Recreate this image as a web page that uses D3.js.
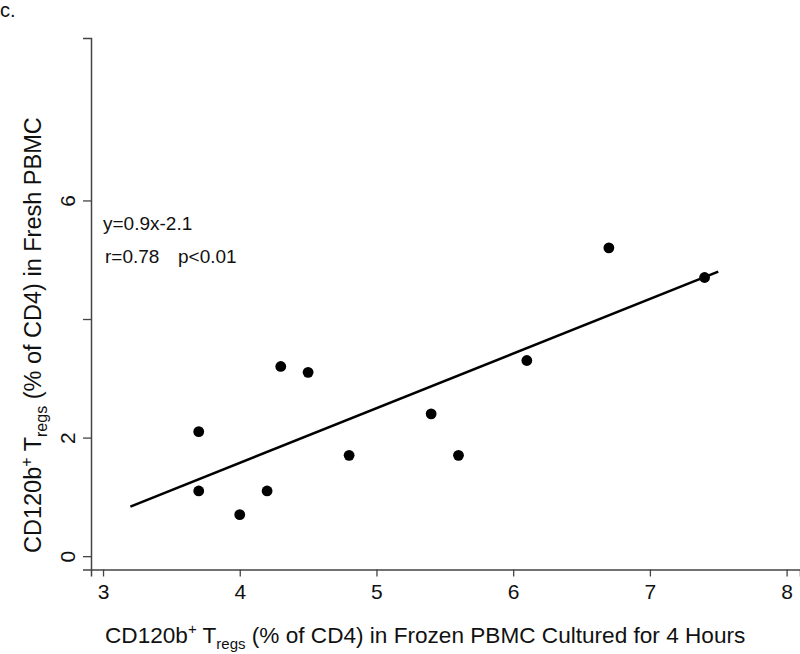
<!DOCTYPE html>
<html lang="en">
<head>
<meta charset="UTF-8">
<title>CD120b Tregs</title>
<style>
  body { margin: 0; background: #fff; }
  svg { font-family: "Liberation Sans", Arial, Helvetica, sans-serif; }
</style>
</head>
<body>
<svg width="800" height="654"></svg>
<script src="https://d3js.org/d3.v7.min.js"></script>
<script>

    // values
    var xFrozen = [3.7, 3.7, 4.0, 4.2, 4.3, 4.5, 4.8, 5.4, 5.6, 6.1, 6.7, 7.4];
    var yFresh  = [2.1, 1.1, 0.7, 1.1, 3.2, 3.1, 1.7, 2.4, 1.7, 3.3, 5.2, 4.7];
    var fitX = [3.2, 7.5];
    var fitY = [0.835, 4.8];
    var xTicks = [3, 4, 5, 6, 7, 8];
    var yTicks = [0, 2, 4, 6];
    var yTickLabels = ["0", "2", "", "6"];

    var svg = d3.select("svg");

    var plotLeft = 91, plotRight = 800, plotTop = 38, plotBottom = 569.5;

    var x = d3.scaleLinear().domain([2.912, 8.098]).range([plotLeft, plotRight]);
    var y = d3.scaleLinear().domain([-0.225, 8.74]).range([plotBottom, plotTop]);

    var axisColor = "#444";

    var gx = svg.append("g")
        .attr("transform", "translate(0," + plotBottom + ")")
        .call(d3.axisBottom(x).tickValues(xTicks).tickFormat(d3.format("d"))
            .tickSizeOuter(0).tickSize(7).tickPadding(5));

    var gy = svg.append("g")
        .attr("transform", "translate(" + plotLeft + ",0)")
        .call(d3.axisLeft(y).tickValues(yTicks).tickSizeOuter(0).tickSize(8)
            .tickFormat(function(d, i) { return yTickLabels[i]; }));

    [gx, gy].forEach(function(g) {
        g.select(".domain").attr("stroke", axisColor).attr("stroke-width", 1.5);
        g.selectAll(".tick line").attr("stroke", axisColor).attr("stroke-width", 1.3);
        g.selectAll("text").attr("fill", "#111").style("font-size", "21px")
            .style("font-family", "'Liberation Sans', Arial, Helvetica, sans-serif");
    });

    gx.selectAll(".tick text").attr("dy", null).attr("y", 0)
        .attr("transform", "translate(0,29)");

    gy.selectAll(".tick text")
        .attr("x", null).attr("dy", null)
        .attr("text-anchor", "middle")
        .attr("transform", "translate(-16,0) rotate(-90)");

    // regression line
    svg.append("line")
        .attr("x1", x(fitX[0])).attr("y1", y(fitY[0]))
        .attr("x2", x(fitX[1])).attr("y2", y(fitY[1]))
        .attr("stroke", "#000")
        .attr("stroke-width", 2.6);

    // points
    svg.append("g").selectAll("circle")
        .data(xFrozen)
        .enter().append("circle")
        .attr("cx", function(d) { return x(d); })
        .attr("cy", function(d, i) { return y(yFresh[i]); })
        .attr("r", 5.4)
        .attr("fill", "#000");

    // annotation
    svg.append("text")
        .attr("x", 103).attr("y", 230)
        .style("font-size", "19px").attr("fill", "#111")
        .text("y=0.9x-2.1");
    svg.append("text")
        .attr("x", 105).attr("y", 263)
        .style("font-size", "19px").attr("fill", "#111")
        .text("r=0.78");
    svg.append("text")
        .attr("x", 178).attr("y", 263)
        .style("font-size", "19px").attr("fill", "#111")
        .text("p<0.01");

    // panel letter
    svg.append("text")
        .attr("x", 0).attr("y", 17)
        .style("font-size", "20px").attr("fill", "#111")
        .text("c.");

    function axisTitle(sel, tail, fs) {
        var small = Math.round(fs * 0.68);
        sel.append("tspan").text("CD120b");
        sel.append("tspan").attr("dy", -9).style("font-size", small + "px").text("+");
        sel.append("tspan").attr("dy", 9).text(" T");
        sel.append("tspan").attr("dy", 6).style("font-size", small + "px").text("regs");
        sel.append("tspan").attr("dy", -6).text(tail);
    }

    var xt = svg.append("text")
        .attr("x", 105).attr("y", 643)
        .style("font-size", "22.6px").attr("fill", "#111");
    axisTitle(xt, " (% of CD4) in Frozen PBMC Cultured for 4 Hours", 22.6);

    var yt = svg.append("text")
        .attr("transform", "translate(41,553) rotate(-90)")
        .style("font-size", "23.5px").attr("fill", "#111");
    axisTitle(yt, " (% of CD4) in Fresh PBMC", 23.5);

</script>
</body>
</html>
